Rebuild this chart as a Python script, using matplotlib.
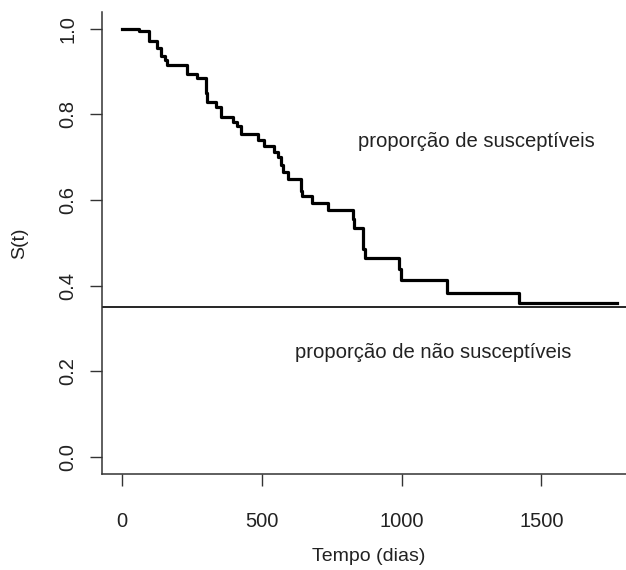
import matplotlib.pyplot as plt

# Kaplan-Meier estimate (time in days, S(t))
tempo = [0, 63, 98, 125, 140, 155, 164, 234, 268, 301, 306, 339, 354, 399,
         414, 426, 488, 509, 545, 559, 571, 577, 595, 640, 644, 681, 738,
         827, 831, 863, 871, 991, 998, 1164, 1419, 1768]
surv = [1.000, 0.994, 0.971, 0.954, 0.936, 0.927, 0.915, 0.895, 0.886, 0.851,
        0.830, 0.818, 0.795, 0.782, 0.774, 0.755, 0.741, 0.727, 0.712, 0.700,
        0.683, 0.665, 0.650, 0.622, 0.609, 0.593, 0.576, 0.555, 0.535, 0.485,
        0.464, 0.439, 0.413, 0.384, 0.359, 0.359]
cura = 0.35

xticks = [0, 500, 1000, 1500]
yticks = [0.0, 0.2, 0.4, 0.6, 0.8, 1.0]

plt.rcParams['font.family'] = ['Liberation Sans', 'DejaVu Sans']

fig = plt.figure(figsize=(6.26, 5.7), dpi=100)
ax = fig.add_axes([0.1625, 0.1684, 0.854, 0.8111])

ax.step(tempo, surv, where='post', color='black', lw=2.3)
ax.axhline(cura, color='black', lw=1.2)

ax.text(1269, 0.737, 'proporção de susceptíveis', fontsize=14.6,
        ha='center', va='center', color='#222222')
ax.text(1112, 0.244, 'proporção de não susceptíveis', fontsize=14.6,
        ha='center', va='center', color='#222222')

ax.set_xlim(-70.7, 1838.7)
ax.set_ylim(-0.04, 1.04)
ax.set_xticks(xticks)
ax.set_yticks(yticks)
ax.set_xticklabels([str(v) for v in xticks])
ax.set_yticklabels([f'{v:.1f}' for v in yticks], rotation=90, va='center')

for s in ['top', 'right']:
    ax.spines[s].set_visible(False)
for s in ['left', 'bottom']:
    ax.spines[s].set_linewidth(1.1)
    ax.spines[s].set_color('#333333')

ax.tick_params(axis='both', length=8.6, width=1.0, color='#333333',
               labelsize=14.5, labelcolor='#222222')
ax.tick_params(axis='x', pad=19)
ax.tick_params(axis='y', pad=9)

ax.set_xlabel('Tempo (dias)', fontsize=14, labelpad=12, color='#222222')
ax.set_ylabel('S(t)', fontsize=14, labelpad=22, color='#222222')

fig.savefig('out.png', dpi=100)
